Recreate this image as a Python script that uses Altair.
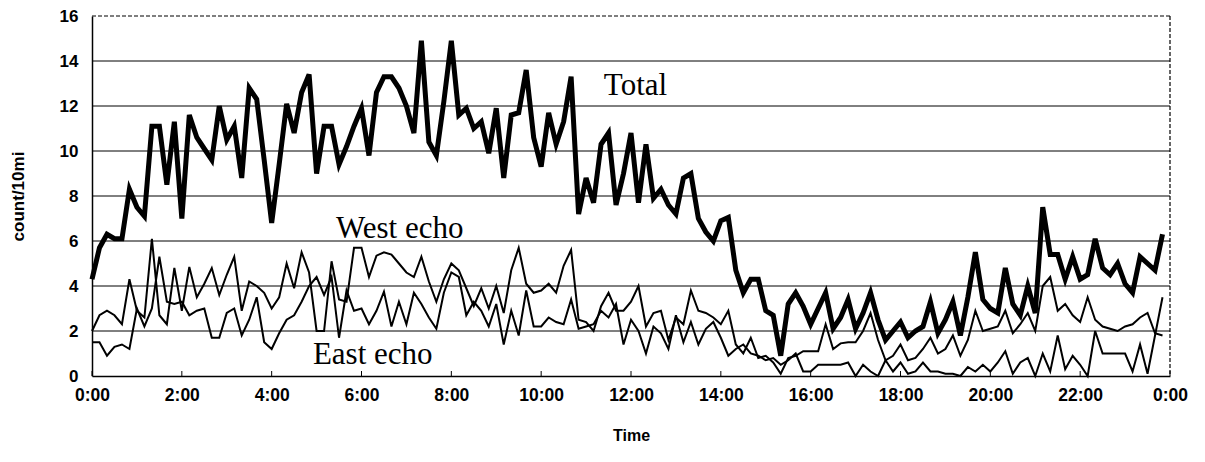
import altair as alt
import pandas as pd

# 10-minute readings, 0:00 .. 23:50 (6 values per hour)
total = [
    4.3, 5.7, 6.3, 6.1, 6.1, 8.3,
    7.5, 7.1, 11.1, 11.1, 8.5, 11.3,
    7.0, 11.6, 10.6, 10.1, 9.6, 12.0,
    10.5, 11.1, 8.8, 12.8, 12.3, 9.6,
    6.8, 9.4, 12.1, 10.8, 12.6, 13.4,
    9.0, 11.1, 11.1, 9.4, 10.2, 11.1,
    11.9, 9.8, 12.6, 13.3, 13.3, 12.8,
    12.0, 10.8, 14.9, 10.4, 9.8, 12.2,
    14.9, 11.6, 11.9, 11.0, 11.3, 9.9,
    11.9, 8.8, 11.6, 11.7, 13.6, 10.6,
    9.3, 11.7, 10.3, 11.3, 13.3, 7.2,
    8.8, 7.7, 10.3, 10.8, 7.6, 9.0,
    10.8, 7.7, 10.3, 7.9, 8.3, 7.6,
    7.2, 8.8, 9.0, 7.0, 6.4, 6.0,
    6.9, 7.05, 4.7, 3.7, 4.3, 4.3,
    2.9, 2.7, 0.9, 3.2, 3.7, 3.1,
    2.3, 3.0, 3.7, 2.1, 2.6, 3.4,
    2.1, 2.8, 3.7, 2.5, 1.6, 2.0,
    2.4, 1.7, 2.0, 2.2, 3.3, 1.9,
    2.5, 3.3, 1.8, 3.5, 5.5, 3.4,
    3.0, 2.8, 4.8, 3.2, 2.7, 4.0,
    2.8, 7.5, 5.4, 5.4, 4.3, 5.3,
    4.3, 4.5, 6.1, 4.8, 4.5, 5.0,
    4.1, 3.7, 5.3, 5.0, 4.7, 6.3,
]

west = [
    2.0, 2.7, 2.9, 2.7, 2.3, 4.3,
    2.9, 2.6, 6.1, 2.7, 2.3, 4.8,
    2.9, 4.85, 3.5, 4.1, 4.8, 3.6,
    4.5, 5.3, 2.9, 4.2, 4.0, 3.7,
    3.0, 3.5, 5.0, 3.9, 5.5, 4.6,
    2.0, 2.0, 5.1, 3.4, 3.3, 5.7,
    5.7, 4.4, 5.35, 5.5, 5.4, 5.0,
    4.6, 4.4, 5.3, 4.2, 3.3, 4.3,
    5.0, 4.7, 3.9, 3.1, 3.9, 3.0,
    4.0, 2.8, 4.7, 5.7, 4.1, 3.7,
    3.8, 4.1, 3.7, 4.9, 5.6, 2.5,
    2.4, 2.0, 3.1, 3.7, 2.9, 2.9,
    3.3, 4.0, 2.2, 2.8, 2.9, 1.6,
    2.6, 2.3, 3.8, 2.9, 2.8, 2.6,
    2.3, 2.9, 1.4, 1.0, 1.7, 0.8,
    0.9, 0.6, 0.1, 0.8, 0.9, 1.1,
    1.1, 1.1, 2.3, 1.2, 1.45, 1.5,
    1.5, 2.0, 2.8, 1.6, 0.7, 0.9,
    1.4, 0.7, 0.8, 1.2, 1.7, 1.0,
    1.2, 1.8, 0.9, 1.6, 2.9, 2.0,
    2.1, 2.2, 2.9, 1.9, 2.3, 2.8,
    2.0, 4.0, 4.4, 2.9, 3.2, 2.7,
    2.4, 3.5, 2.5, 2.2, 2.1, 2.0,
    2.2, 2.3, 2.6, 2.8, 1.9, 1.8,
]

east = [
    1.5, 1.5, 0.9, 1.3, 1.4, 1.2,
    3.0, 2.2, 3.0, 5.3, 3.3, 3.2,
    3.3, 2.7, 2.9, 3.0, 1.7, 1.7,
    2.8, 3.0, 1.8, 2.5, 3.5, 1.5,
    1.2, 1.9, 2.5, 2.7, 3.3, 4.0,
    4.4, 3.6, 4.4, 1.7, 3.8, 2.9,
    3.0, 2.3, 2.9, 3.75, 2.2, 3.3,
    2.3, 3.7, 3.2, 2.6, 2.1, 3.7,
    4.6, 4.4, 2.7, 3.3, 2.9, 2.2,
    3.2, 1.4, 2.9, 1.8, 3.8, 2.2,
    2.2, 2.6, 2.4, 2.3, 3.4, 2.1,
    2.2, 2.3, 2.9, 2.6, 3.2, 1.4,
    2.5, 2.0, 1.0, 2.2, 1.9, 1.2,
    2.7, 1.5, 2.4, 1.4, 2.1, 2.4,
    1.7, 0.9, 1.2, 1.4, 1.0, 0.9,
    0.7, 0.8, 0.5, 0.7, 1.0, 0.2,
    0.2, 0.5, 0.5, 0.5, 0.5, 0.6,
    0.0, 0.5, 0.2, 0.0, 0.7, 0.2,
    0.6, 0.1, 0.2, 0.6, 0.2, 0.2,
    0.1, 0.1, 0.0, 0.4, 0.2, 0.5,
    0.2, 0.6, 1.1, 0.1, 0.6, 0.8,
    0.0, 1.0, 0.2, 1.8, 0.3, 0.9,
    0.5, 0.0, 2.0, 1.0, 1.0, 1.0,
    1.0, 0.2, 1.4, 0.1, 1.8, 3.5,
]

x_ticks = [0, 2, 4, 6, 8, 10, 12, 14, 16, 18, 20, 22, 24]
y_ticks = [0, 2, 4, 6, 8, 10, 12, 14, 16]
grid_values = [2, 4, 6, 8, 10, 12, 14]

labels = ["Total", "West echo", "East echo"]
label_hours = [12.1, 6.85, 6.25]
label_values = [12.9, 6.55, 0.95]

hours = [i * 10 / 60 for i in range(len(total))]

df_total = pd.DataFrame({"hour": hours, "value": total, "series": "Total"})
df_thin = pd.concat([
    pd.DataFrame({"hour": hours, "value": west, "series": "West echo"}),
    pd.DataFrame({"hour": hours, "value": east, "series": "East echo"}),
])
df_grid = pd.DataFrame({"v": grid_values})
df_labels = pd.DataFrame({"label": labels, "hour": label_hours, "value": label_values})
df_xt = pd.DataFrame({"h": x_ticks})

FONT = "Liberation Sans"
W, H = 1078, 360

x_scale = alt.Scale(domain=[0, 24], nice=False, zero=False)
y_scale = alt.Scale(domain=[0, 16], nice=False)

x_enc = alt.X(
    "hour:Q", scale=x_scale,
    axis=alt.Axis(
        title="Time", values=x_ticks, labelExpr="(datum.value % 24) + ':00'",
        grid=False, domainColor="black", domainWidth=1.5, ticks=False,
        labelFont=FONT, labelFontWeight="bold", labelFontSize=17.5, labelColor="black",
        labelPadding=10, labelFlush=False, labelOverlap=False,
        titleFont=FONT, titleFontWeight="bold", titleFontSize=16, titleColor="black",
        titlePadding=24,
    ),
)
y_enc = alt.Y(
    "value:Q", scale=y_scale,
    axis=alt.Axis(
        title="count/10mi", values=y_ticks, grid=False,
        domainColor="black", domainWidth=1.5, ticks=False,
        labelFont=FONT, labelFontWeight="bold", labelFontSize=17, labelColor="black",
        labelPadding=14,
        titleFont=FONT, titleFontWeight="bold", titleFontSize=17, titleColor="black",
        titleX=-74, titleY=H / 2, titleAngle=-90, titleBaseline="middle", titleAlign="center",
    ),
)

grid = alt.Chart(df_grid).mark_rule(color="black", strokeWidth=1).encode(
    y=alt.Y("v:Q", scale=y_scale), x=alt.value(0), x2=alt.value(W)
)
top_border = alt.Chart(pd.DataFrame({"v": [16]})).mark_rule(
    color="black", strokeWidth=1.2, strokeDash=[4, 2]
).encode(y=alt.Y("v:Q", scale=y_scale), x=alt.value(0), x2=alt.value(W))
right_border = alt.Chart(pd.DataFrame({"h": [24]})).mark_rule(
    color="black", strokeWidth=1.2, strokeDash=[4, 2]
).encode(x=alt.X("h:Q", scale=x_scale), y=alt.value(0), y2=alt.value(H))
ticks = alt.Chart(df_xt).mark_rule(color="black", strokeWidth=1).encode(
    x=alt.X("h:Q", scale=x_scale), y=alt.value(H), y2=alt.value(H - 5)
)

thin = alt.Chart(df_thin).mark_line(color="black", strokeWidth=2).encode(
    x=x_enc, y=y_enc, detail="series:N"
)
thick = alt.Chart(df_total).mark_line(color="black", strokeWidth=5).encode(
    x=alt.X("hour:Q", scale=x_scale), y=alt.Y("value:Q", scale=y_scale)
)
text = alt.Chart(df_labels).mark_text(
    font="Liberation Serif", fontSize=31, color="black", align="center", baseline="middle"
).encode(
    x=alt.X("hour:Q", scale=x_scale), y=alt.Y("value:Q", scale=y_scale), text="label:N"
)

chart = alt.layer(thin, grid, top_border, right_border, ticks, thick, text).properties(
    width=W, height=H,
    padding={"left": 84, "top": 8, "right": 25, "bottom": 70},
    autosize=alt.AutoSizeParams(type="none"),
).configure_view(stroke=None)

chart.save("out.html", embed_options={"renderer": "svg", "actions": False})
